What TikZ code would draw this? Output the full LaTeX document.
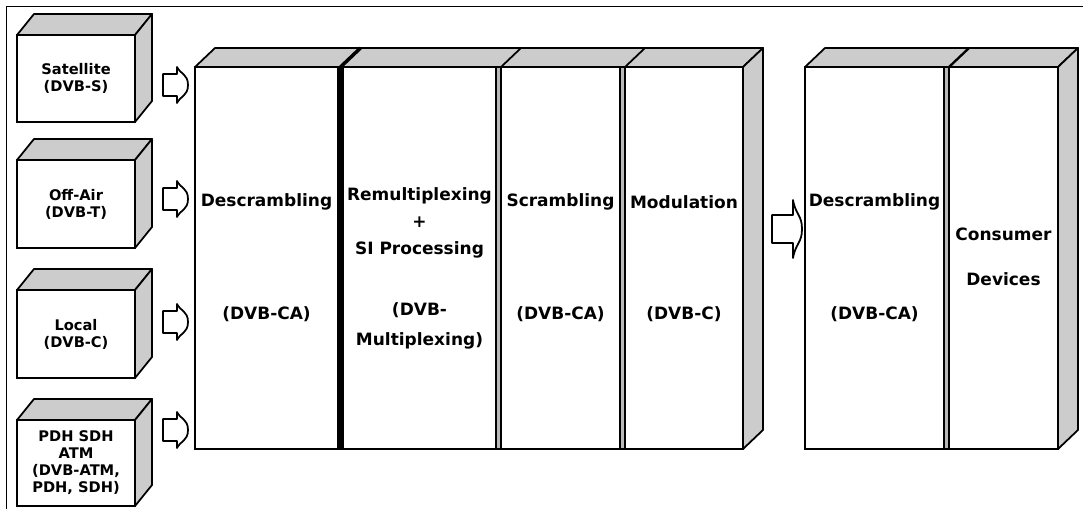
\documentclass[tikz,border=0pt]{standalone}
\usepackage{fontspec}
\setmainfont{DejaVu Sans}
\usetikzlibrary{calc,positioning}

\newcommand{\px}{0.03cm}

\tikzset{
    front/.style={draw, line width=1.5pt, fill=white, inner sep=0pt,
        outer sep=0pt, anchor=north west},
    srcbox/.style={front, minimum width=118*\px, align=center,
        font=\fontsize{12.5}{14.5}\selectfont\bfseries},
    colbox/.style={front, minimum height=382*\px},
    face/.style={draw, line width=1.5pt, fill=gray!40, line join=round},
    seam/.style={draw, line width=1pt, fill=gray!55},
    darkseam/.style={draw, line width=1pt, fill=black},
    coltxt/.style={align=center, font=\fontsize{14.5}{19.5}\selectfont\bfseries},
    arrowline/.style={draw, line width=1.5pt, fill=white, line join=round},
    pics/fatarrow/.style n args={4}{code={
        \draw[arrowline] (0,-#2) -- (#1,-#2) -- (#1,-#3)
            .. controls (#1+0.3*#4,-#2) and (#1+#4,-#2) .. (#1+#4,0)
            .. controls (#1+#4,#2) and (#1+0.3*#4,#2) .. (#1,#3)
            -- (#1,#2) -- (0,#2) -- cycle;
    }}
}

\begin{document}
\begin{tikzpicture}[x=\px, y=-\px]
    \useasboundingbox (0,0) rectangle (1083,509);
    \clip (0,0) rectangle (1083,509);

    % frame
    \draw[line width=0.8pt] (6,520) -- (6,6) -- (1090,6);

    % sources
    \node[srcbox, minimum height=87*\px] (sat) at (17,35) {Satellite\\(DVB-S)};
    \node[srcbox, minimum height=88*\px] (offair) at (17,160) {Off-Air\\(DVB-T)};
    \node[srcbox, minimum height=88*\px] (local) at (17,290) {Local\\(DVB-C)};
    \node[srcbox, minimum height=86*\px] (pdh) at (17,420) {PDH SDH\\ATM\\(DVB-ATM,\\PDH, SDH)};

    \foreach \b in {sat,offair,local,pdh} {
        \draw[face] (\b.north west) -- ++(17,-21) -- ($(\b.north east)+(17,-21)$)
            -- (\b.north east) -- cycle;
        \draw[face] (\b.north east) -- ++(17,-21) -- ($(\b.south east)+(17,-21)$)
            -- (\b.south east) -- cycle;
    }

    % head-end
    \node[colbox, minimum width=143*\px] (desc) at (195,67) {};
    \node[colbox, minimum width=153*\px] (remux) at (343,67) {};
    \node[colbox, minimum width=119*\px] (scram) at (501,67) {};
    \node[colbox, minimum width=118*\px] (modul) at (625,67) {};

    \draw[darkseam] (desc.north east) rectangle (remux.south west);
    \draw[seam] (remux.north east) rectangle (scram.south west);
    \draw[seam] (scram.north east) rectangle (modul.south west);

    \draw[face] (desc.north west) -- ++(20,-19) -- ($(modul.north east)+(20,-19)$)
        -- (modul.north east) -- cycle;
    \draw[face] (modul.north east) -- ++(20,-19) -- ($(modul.south east)+(20,-19)$)
        -- (modul.south east) -- cycle;
    \draw[line width=3pt] ($(desc.north east)!.5!(remux.north west)$) -- ++(20,-19);
    \draw[line width=1.5pt] (scram.north west) -- ++(20,-19);
    \draw[line width=1.5pt] (modul.north west) -- ++(20,-19);

    % receiver
    \node[colbox, minimum width=139*\px] (descB) at (805,67) {};
    \node[colbox, minimum width=109*\px] (cons) at (949,67) {};

    \draw[seam] (descB.north east) rectangle (cons.south west);
    \draw[face] (descB.north west) -- ++(20,-19) -- ($(cons.north east)+(20,-19)$)
        -- (cons.north east) -- cycle;
    \draw[face] (cons.north east) -- ++(20,-19) -- ($(cons.south east)+(20,-19)$)
        -- (cons.south east) -- cycle;
    \draw[line width=2pt] (cons.north west) -- ++(20,-19);

    % labels
    \coordinate (rowA) at (0,202);
    \coordinate (rowP) at (0,223);
    \coordinate (rowB) at (0,314);
    \coordinate (rowM) at (0,326);
    \coordinate (rowC) at (0,257);

    \node[coltxt] (descT) at (desc |- rowA) {Descrambling};
    \node[coltxt] (descS) at (desc |- rowB) {(DVB-CA)};
    \node[coltxt, font=\fontsize{14.5}{23}\selectfont\bfseries] (remuxT) at (remux |- rowP) {Remultiplexing\\+\\SI Processing};
    \node[coltxt, font=\fontsize{14.5}{26}\selectfont\bfseries] (remuxS) at (remux |- rowM) {(DVB-\\Multiplexing)};
    \node[coltxt] (scramT) at (scram |- rowA) {Scrambling};
    \node[coltxt] (scramS) at (scram |- rowB) {(DVB-CA)};
    \node[coltxt] (modulT) at (modul |- rowA) {Modulation};
    \node[coltxt] (modulS) at (modul |- rowB) {(DVB-C)};
    \node[coltxt] (descBT) at (descB |- rowA) {Descrambling};
    \node[coltxt] (descBS) at (descB |- rowB) {(DVB-CA)};
    \node[coltxt, font=\fontsize{14.5}{38}\selectfont\bfseries] (consT) at (cons |- rowC) {Consumer\\Devices};

    % block arrows
    \coordinate (inS) at (163,85);
    \coordinate (inT) at (163,199);
    \coordinate (inC) at (163,322);
    \coordinate (inA) at (163,430);
    \coordinate (outM) at (772,229);

    \foreach \a in {inS,inT,inC,inA}
        \pic at (\a) {fatarrow={14}{11}{18}{11}};
    \pic at (outM) {fatarrow={21}{14}{29}{9}};
\end{tikzpicture}
\end{document}
